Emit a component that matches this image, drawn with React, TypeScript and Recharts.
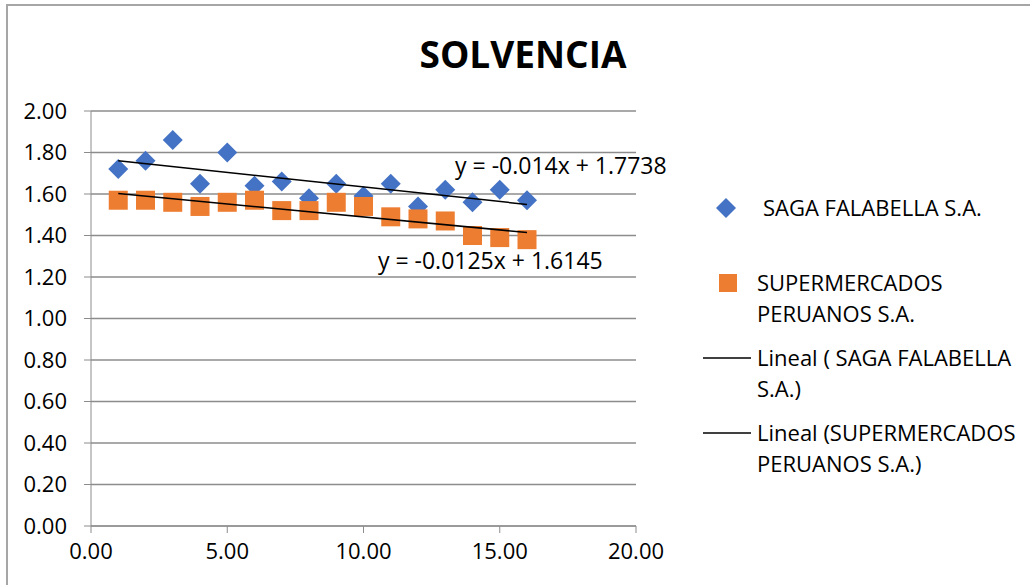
import React from "react";
import {
  ScatterChart,
  Scatter,
  XAxis,
  YAxis,
  CartesianGrid,
  ReferenceDot,
} from "recharts";

const periods = [1, 2, 3, 4, 5, 6, 7, 8, 9, 10, 11, 12, 13, 14, 15, 16];
const sagaValues = [1.72, 1.76, 1.86, 1.65, 1.8, 1.64, 1.66, 1.58, 1.65, 1.59, 1.65, 1.54, 1.62, 1.56, 1.62, 1.57];
const superValues = [1.57, 1.57, 1.56, 1.54, 1.56, 1.57, 1.52, 1.52, 1.56, 1.54, 1.49, 1.48, 1.47, 1.4, 1.39, 1.38];

// trend line end points (x = 1 and x = 16)
const sagaTrendX = [1, 16];
const sagaTrendY = [1.7598, 1.5498];
const superTrendX = [1, 16];
const superTrendY = [1.602, 1.4145];

const xTicks = [0, 5, 10, 15, 20];
const yTicks = [0, 0.2, 0.4, 0.6, 0.8, 1.0, 1.2, 1.4, 1.6, 1.8, 2.0];

const sagaLabel = "SAGA FALABELLA S.A.";
const superLabel = "SUPERMERCADOS PERUANOS S.A.";
const sagaEq = "y = -0.014x + 1.7738";
const superEq = "y = -0.0125x + 1.6145";

const sagaData = periods.map((x, i) => ({ x, y: sagaValues[i] }));
const superData = periods.map((x, i) => ({ x, y: superValues[i] }));
const sagaTrend = sagaTrendX.map((x, i) => ({ x, y: sagaTrendY[i] }));
const superTrend = superTrendX.map((x, i) => ({ x, y: superTrendY[i] }));

const FONT = "'Open Sans', sans-serif";
const BLUE = "#4472C4";
const ORANGE = "#ED7D31";

const Diamond = (props: any) => {
  const { cx, cy } = props;
  const r = 10;
  return (
    <polygon
      points={`${cx},${cy - r} ${cx + r},${cy} ${cx},${cy + r} ${cx - r},${cy}`}
      fill={BLUE}
    />
  );
};

const Square = (props: any) => {
  const { cx, cy } = props;
  const h = 9.5;
  return <rect x={cx - h} y={cy - h} width={h * 2} height={h * 2} fill={ORANGE} />;
};

const NoShape = () => <g />;

const textStyle: React.CSSProperties = {
  position: "absolute",
  fontFamily: FONT,
  fontSize: 22,
  color: "#000",
  lineHeight: "31px",
  whiteSpace: "nowrap",
};

export default function App() {
  return (
    <div
      style={{
        position: "absolute",
        left: 0,
        top: 0,
        width: 1030,
        height: 585,
        overflow: "hidden",
        background: "#fff",
        fontFamily: FONT,
      }}
    >
      <div
        style={{
          position: "absolute",
          left: 6,
          top: 4,
          width: 1100,
          height: 700,
          border: "2px solid #a6a6a6",
          boxSizing: "border-box",
        }}
      />
      <div
        style={{
          position: "absolute",
          left: 0,
          top: 28,
          width: 1046,
          textAlign: "center",
          fontSize: 37,
          fontWeight: 700,
          lineHeight: "52px",
        }}
      >
        SOLVENCIA
      </div>
      <div style={{ position: "absolute", left: 0, top: 0 }}>
        <ScatterChart
          width={1030}
          height={585}
          margin={{ top: 111, right: 394, bottom: 19, left: 0 }}
        >
          <CartesianGrid horizontal vertical={false} stroke="#8c8c8c" strokeWidth={1.3} />
          <XAxis
            type="number"
            dataKey="x"
            domain={[0, 20]}
            ticks={xTicks}
            tickFormatter={(v: number) => v.toFixed(2)}
            height={40}
            stroke="#8c8c8c"
            tickSize={7}
            tick={{ fill: "#000", fontSize: 22, fontFamily: FONT }}
            tickMargin={10}
          />
          <YAxis
            type="number"
            dataKey="y"
            domain={[0, 2]}
            ticks={yTicks}
            tickFormatter={(v: number) => v.toFixed(2)}
            width={91}
            stroke="#8c8c8c"
            tickSize={7}
            tick={{ fill: "#000", fontSize: 22, fontFamily: FONT }}
            tickMargin={17}
          />
          <Scatter
            name={sagaLabel}
            data={sagaData}
            shape={Diamond}
            isAnimationActive={false}
          />
          <Scatter
            name={superLabel}
            data={superData}
            shape={Square}
            isAnimationActive={false}
          />
          <Scatter
            data={sagaTrend}
            line={{ stroke: "#000", strokeWidth: 1.5 }}
            shape={NoShape}
            isAnimationActive={false}
          />
          <Scatter
            data={superTrend}
            line={{ stroke: "#000", strokeWidth: 1.5 }}
            shape={NoShape}
            isAnimationActive={false}
          />
          <ReferenceDot
            x={13.36}
            y={1.735}
            r={0}
            ifOverflow="visible"
            label={{ value: sagaEq, position: "right", offset: 0, fill: "#000", fontSize: 23, fontFamily: FONT }}
          />
          <ReferenceDot
            x={10.53}
            y={1.28}
            r={0}
            ifOverflow="visible"
            label={{ value: superEq, position: "right", offset: 0, fill: "#000", fontSize: 23, fontFamily: FONT }}
          />
        </ScatterChart>
      </div>

      {/* legend */}
      <svg style={{ position: "absolute", left: 0, top: 0 }} width={1030} height={585}>
        <polygon points="726,198 736,208 726,218 716,208" fill={BLUE} />
        <rect x={719} y={274} width={18} height={18} fill={ORANGE} />
        <line x1={703} y1={358} x2={751} y2={358} stroke="#000" strokeWidth={1.3} />
        <line x1={703} y1={433} x2={751} y2={433} stroke="#000" strokeWidth={1.3} />
      </svg>
      <div style={{ ...textStyle, left: 763, top: 192 }}>{sagaLabel}</div>
      <div style={{ ...textStyle, left: 757, top: 267 }}>
        SUPERMERCADOS
        <br />
        PERUANOS S.A.
      </div>
      <div style={{ ...textStyle, left: 757, top: 342 }}>
        Lineal ( SAGA FALABELLA
        <br />
        S.A.)
      </div>
      <div style={{ ...textStyle, left: 757, top: 417 }}>
        Lineal (SUPERMERCADOS
        <br />
        PERUANOS S.A.)
      </div>
    </div>
  );
}
